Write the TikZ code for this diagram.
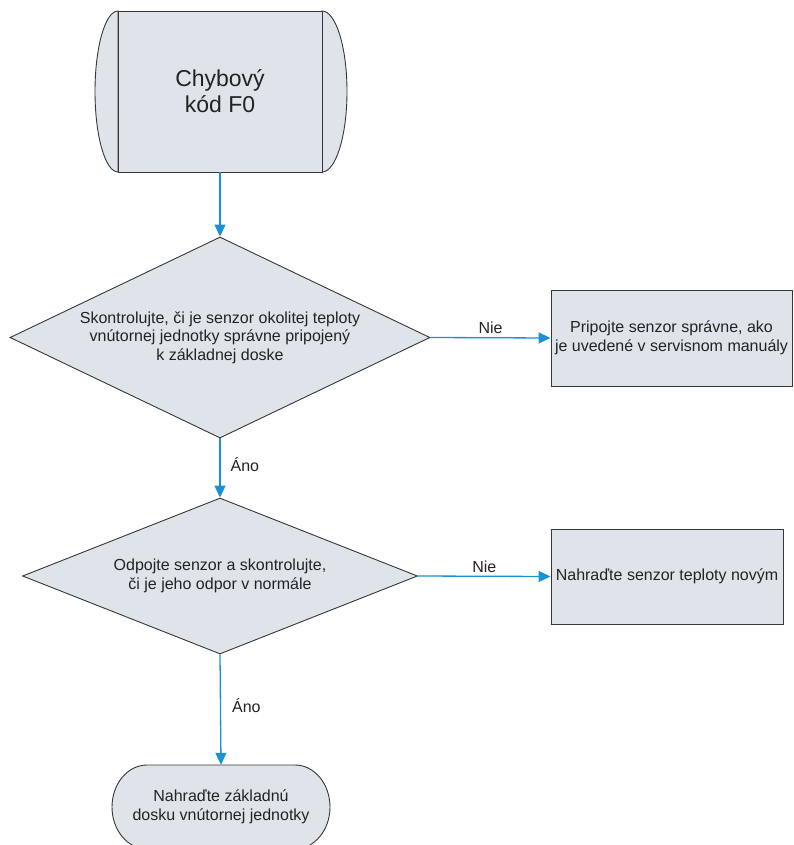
\documentclass[tikz,border=0pt]{standalone}
\usepackage{fontspec}
\setmainfont{Liberation Sans}
\usetikzlibrary{shapes.geometric,arrows.meta}
\definecolor{shapefill}{RGB}{223,228,234}
\definecolor{edgegray}{RGB}{55,55,55}
\definecolor{flowblue}{RGB}{27,144,210}
\definecolor{inkgray}{RGB}{35,35,35}
\begin{document}
\begin{tikzpicture}[x=1pt,y=-1pt,
  outline/.style={draw=edgegray,line width=0.9pt,fill=shapefill},
  decision/.style={outline,diamond,inner sep=0pt},
  actionbox/.style={outline,rectangle,inner sep=0pt,align=center,text=inkgray,
    font=\fontsize{16}{18.5}\selectfont},
  bodytext/.style={align=center,text=inkgray,inner sep=0pt,font=\fontsize{16}{18.5}\selectfont},
  flow/.style={draw=flowblue,line width=1.3pt,-{Triangle[length=12pt,width=11pt]}},
  flowtext/.style={text=inkgray,inner sep=0pt,font=\fontsize{16}{18}\selectfont}
]
\useasboundingbox (0,0) rectangle (794,845);

% start terminal: rectangle with curved side bulges
\filldraw[outline] (118,11) arc[start angle=270,end angle=90,x radius=23,y radius=80.5] -- cycle;
\filldraw[outline] (322,11) arc[start angle=-90,end angle=90,x radius=25,y radius=80.5] -- cycle;
\node[outline,rectangle,minimum width=204pt,minimum height=161pt,inner sep=0pt,
  align=center,text=inkgray,font=\fontsize{23}{26}\selectfont] (start) at (220,91.5) {Chybový\\kód F0};

% first decision
\node[decision,minimum width=420pt,minimum height=201pt] (d1) at (220,337.5) {};
\node[bodytext] (d1text) at (d1.center) {Skontrolujte, či je senzor okolitej teploty\\vnútornej jednotky správne pripojený\\k základnej doske};

% first action
\node[actionbox,minimum width=241pt,minimum height=96pt] (b1) at (671.5,338)
  {Pripojte senzor správne, ako\\je uvedené v servisnom manuály};

% second decision
\node[decision,minimum width=395pt,minimum height=156pt] (d2) at (220,576) {};
\node[bodytext] (d2text) at (d2.center) {Odpojte senzor a skontrolujte,\\či je jeho odpor v normále};

% second action
\node[actionbox,minimum width=232pt,minimum height=95pt] (b2) at (667,576.5)
  {Nahraďte senzor teploty novým};

% end terminal with elliptical ends
\filldraw[outline] (147,765) -- (295,765)
  arc[start angle=-90,end angle=90,x radius=35,y radius=42]
  -- (147,849)
  arc[start angle=90,end angle=270,x radius=35,y radius=42] -- cycle;
\node[bodytext,minimum width=148pt,minimum height=84pt] (finish) at (221,807)
  {Nahraďte základnú\\dosku vnútornej jednotky};

% connectors
\draw[flow] (start.south) -- (d1.north);
\draw[flow] (d1.east) -- node[flowtext,above=3pt] {Nie} (b1.west);
\draw[flow] (d1.south) -- node[flowtext,anchor=west,xshift=10pt,yshift=3pt] {Áno} (d2.north);
\draw[flow] (d2.east) -- node[flowtext,above=3pt] {Nie} (b2.west);
\draw[flow] (d2.south) -- node[flowtext,anchor=west,xshift=11pt,yshift=4pt] {Áno} (finish.north);
\end{tikzpicture}
\end{document}
